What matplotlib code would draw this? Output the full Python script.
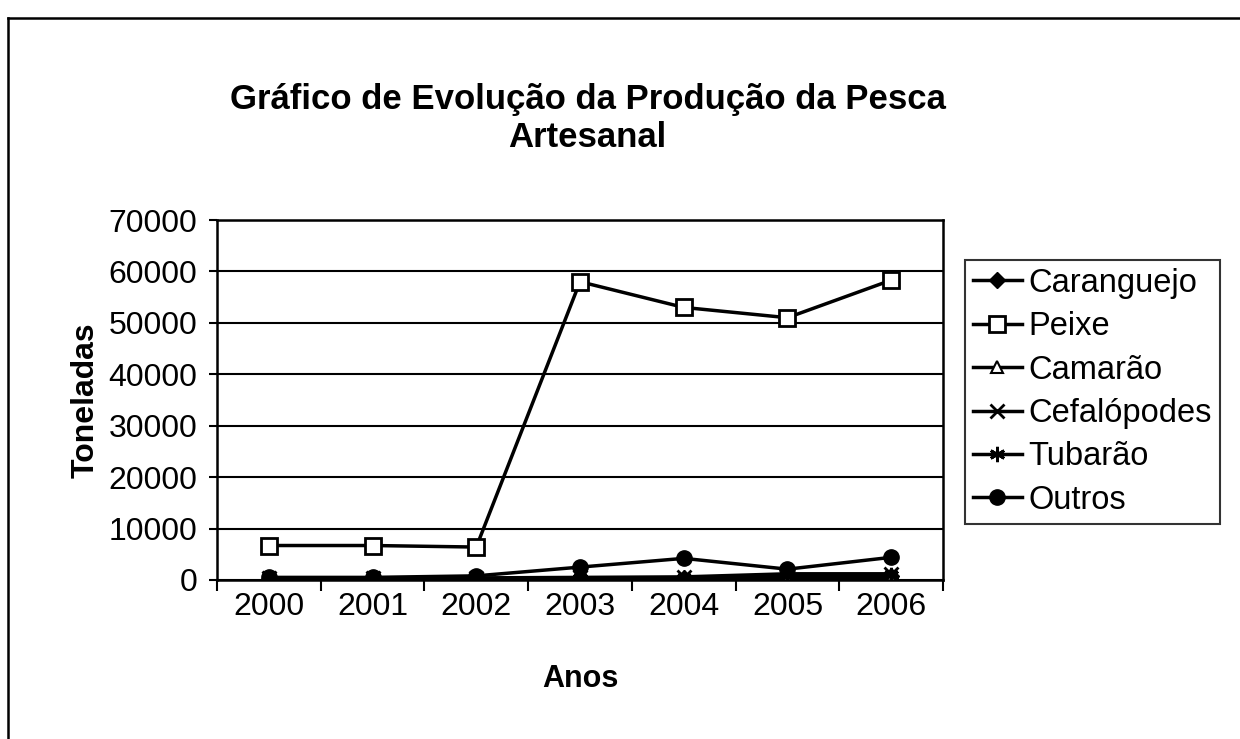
import numpy as np
import matplotlib.pyplot as plt
from matplotlib.lines import Line2D

plt.rcParams['font.family'] = ['Liberation Sans', 'DejaVu Sans']

anos = ['2000', '2001', '2002', '2003', '2004', '2005', '2006']
caranguejo = [200, 200, 300, 400, 400, 600, 700]
peixe = [6700, 6700, 6400, 58000, 53000, 51000, 58300]
camarao = [100, 100, 100, 200, 200, 300, 300]
cefalopodes = [300, 300, 400, 500, 600, 1200, 1200]
tubarao = [100, 100, 200, 300, 300, 800, 900]
outros = [500, 500, 800, 2500, 4200, 2100, 4400]

series = [
    ('Caranguejo', caranguejo, dict(marker='D', ms=8, mfc='black')),
    ('Peixe', peixe, dict(marker='s', ms=11, mfc='white', mew=2)),
    ('Camarão', camarao, dict(marker='^', ms=9, mfc='white', mew=1.5)),
    ('Cefalópodes', cefalopodes, dict(marker='x', ms=10, mew=2)),
    ('Tubarão', tubarao, dict(marker=(6, 2, 0), ms=11, mew=2)),
    ('Outros', outros, dict(marker='o', ms=11, mfc='black')),
]


def main():
    fig = plt.figure(figsize=(12.4, 7.39), dpi=100)
    ax = fig.add_axes([0.175, 0.2152, 0.5855, 0.4871])
    x = np.arange(len(anos))
    for name, vals, st in series:
        ax.plot(x, vals, color='black', lw=2.5, mec='black', label=name, **st)

    ax.set_xlim(-0.5, len(anos) - 0.5)
    ax.set_ylim(0, 70000)
    ax.set_yticks(np.arange(0, 70001, 10000))
    ax.set_xticks(x)
    ax.set_xticklabels(anos)
    ax.set_xticks(np.arange(-0.5, len(anos), 1), minor=True)
    ax.tick_params(axis='x', which='major', length=0, pad=9, labelsize=23)
    ax.tick_params(axis='x', which='minor', length=8, width=1.5, direction='out')
    ax.tick_params(axis='y', length=6, width=1.5, pad=8, labelsize=23)
    ax.yaxis.grid(True, color='black', lw=1.5)
    for s in ax.spines.values():
        s.set_linewidth(1.8)

    ax.set_ylabel('Toneladas', fontsize=23, fontweight='bold', labelpad=6)
    ax.set_xlabel('Anos', fontsize=22, fontweight='bold', labelpad=30)

    fig.text(0.474, 0.84, 'Gráfico de Evolução da Produção da Pesca\nArtesanal',
             ha='center', va='center', fontsize=25, fontweight='bold',
             linespacing=1.2)

    leg = ax.legend(loc='upper left', bbox_to_anchor=(1.03, 0.89), fontsize=23.5,
                    frameon=True, fancybox=False, edgecolor='black',
                    handlelength=1.5, handletextpad=0.2, borderpad=0.25,
                    labelspacing=0.38, borderaxespad=0)
    leg.get_frame().set_linewidth(1.5)

    fig.add_artist(Line2D([0.0065, 1.0], [0.9756, 0.9756], color='black', lw=1.8))
    fig.add_artist(Line2D([0.0065, 0.0065], [0.0, 0.9756], color='black', lw=1.8))

    fig.savefig('out.png', dpi=100)


if __name__ == '__main__':
    main()
